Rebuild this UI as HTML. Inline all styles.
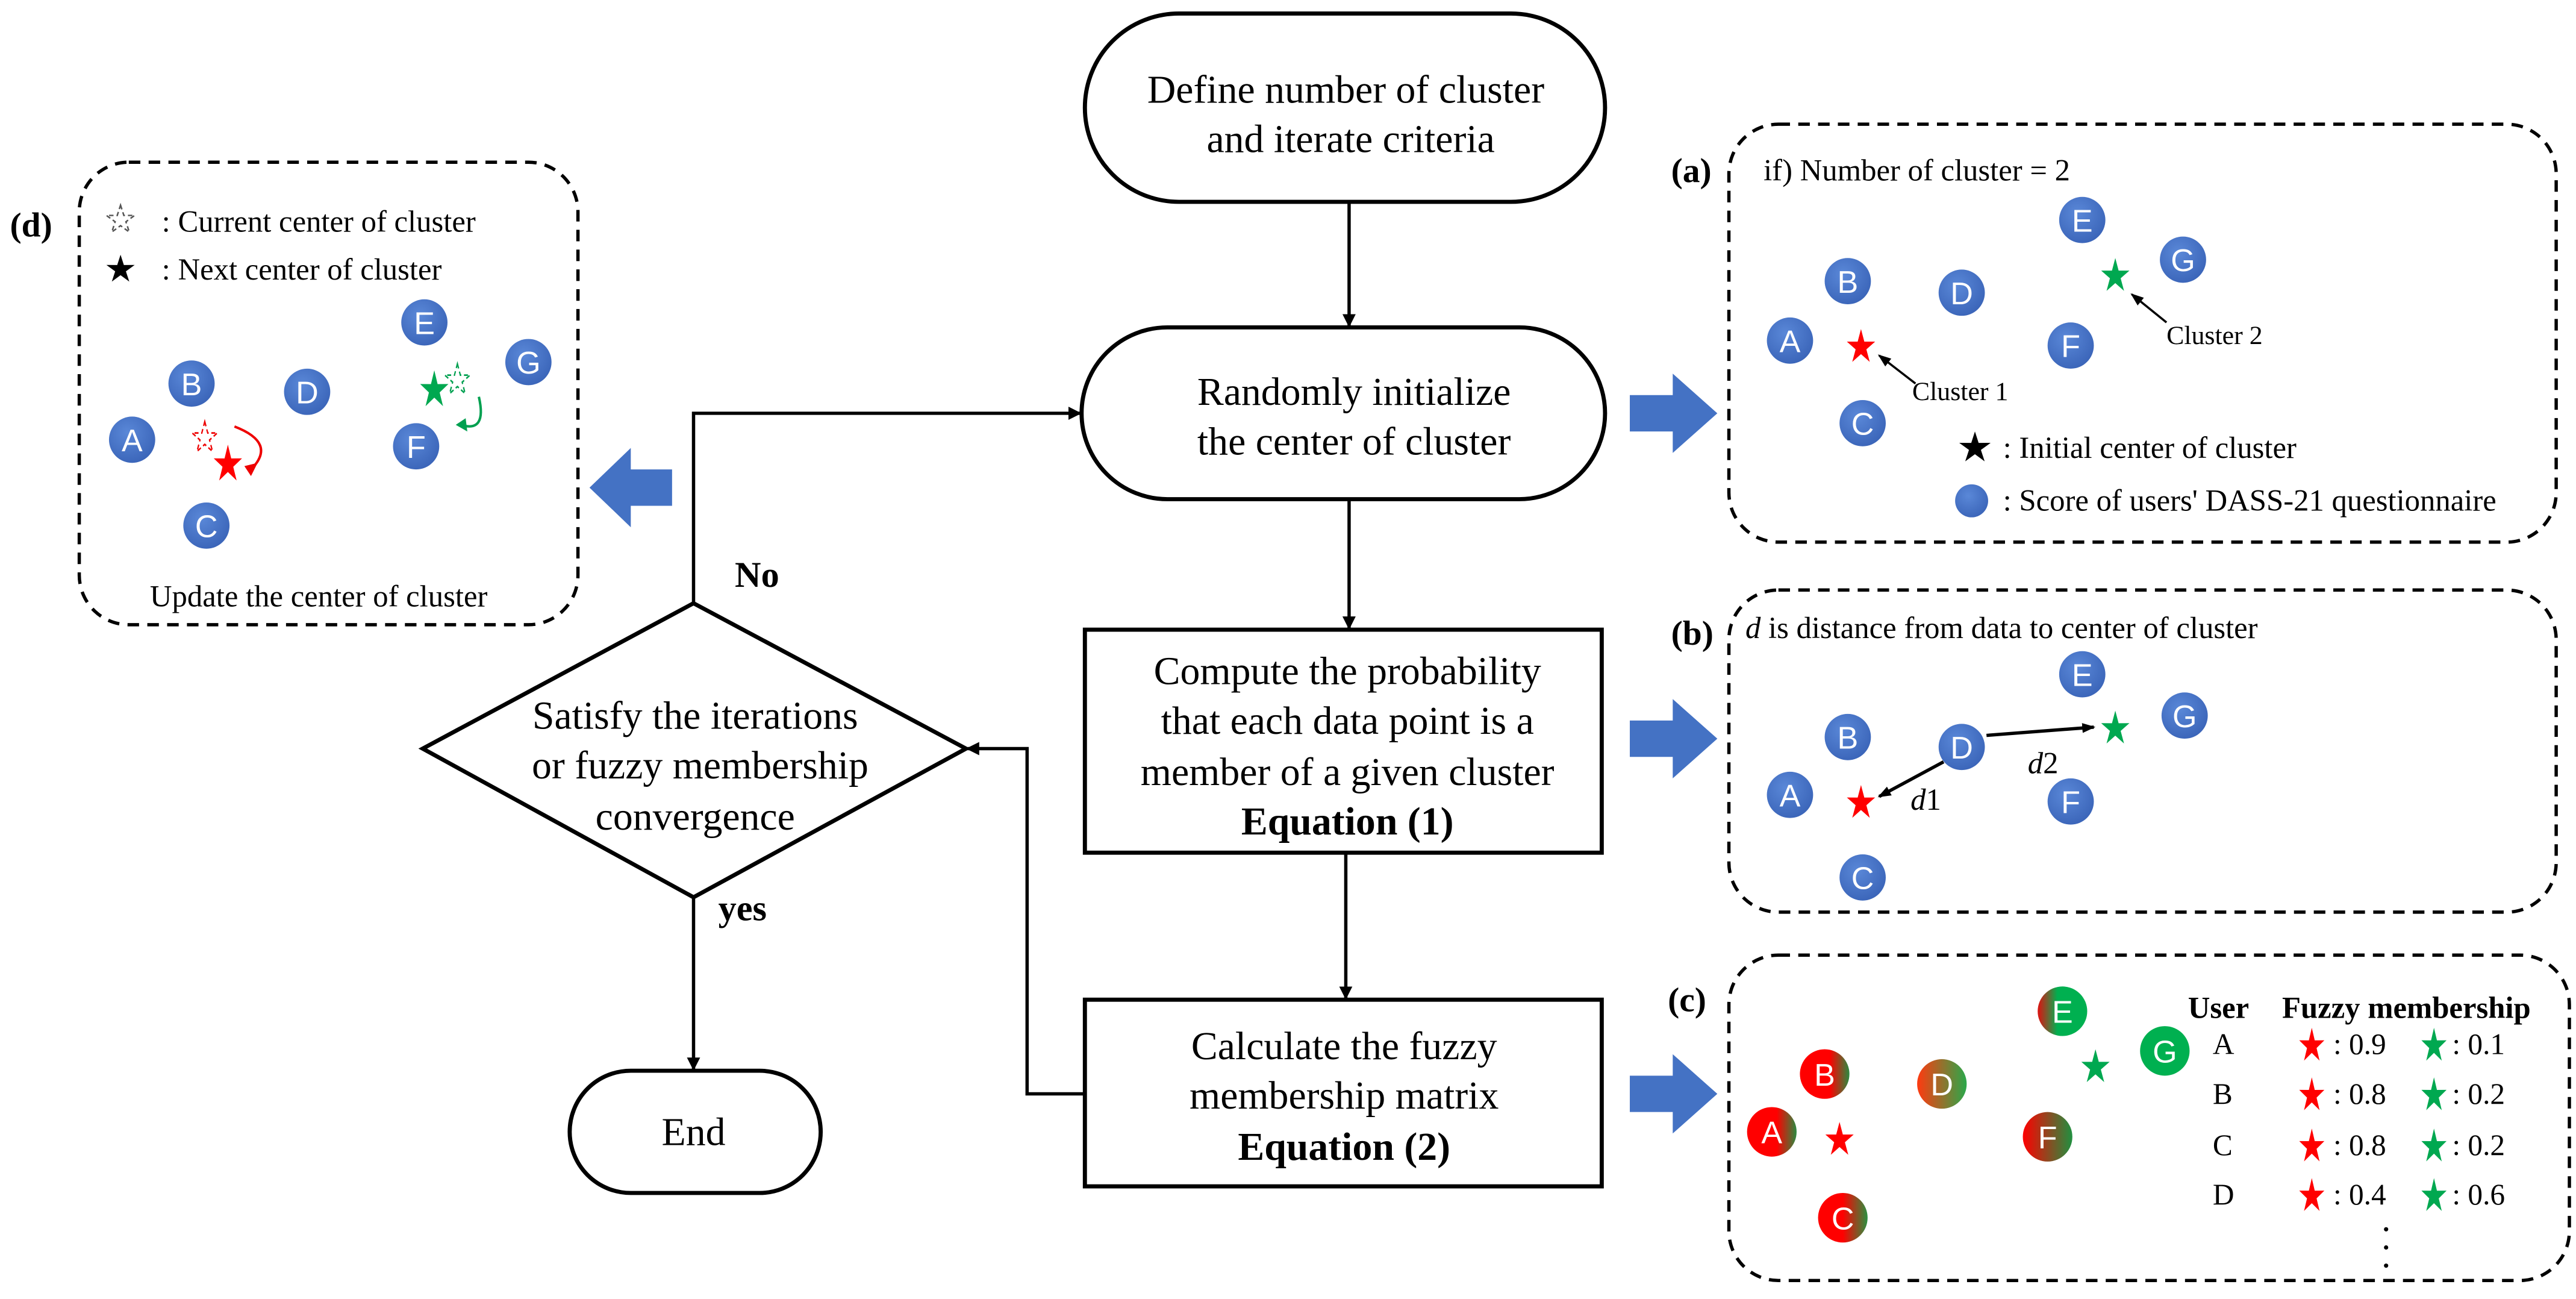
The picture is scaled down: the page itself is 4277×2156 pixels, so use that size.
<!DOCTYPE html>
<html><head><meta charset="utf-8"><style>html,body{margin:0;padding:0;background:#fff}svg{display:block}</style></head>
<body>
<svg xmlns="http://www.w3.org/2000/svg" width="4277" height="2156" viewBox="0 0 1560 786">
<defs>
<path id="st" d="M0,-1 L0.2234,-0.3074 L0.9511,-0.309 L0.3614,0.1174 L0.5878,0.809 L0,0.38 L-0.5878,0.809 L-0.3614,0.1174 L-0.9511,-0.309 L-0.2234,-0.3074 Z"/>
<radialGradient id="bl" cx="0.4" cy="0.35" r="0.7"><stop offset="0" stop-color="#5a88d8"/><stop offset="1" stop-color="#3a64b8"/></radialGradient>
<linearGradient id="gB"><stop offset="0.6" stop-color="#f00"/><stop offset="1" stop-color="#2a8a40"/></linearGradient>
<linearGradient id="gD"><stop offset="0" stop-color="#ff3a10"/><stop offset="1" stop-color="#2aa84a"/></linearGradient>
<linearGradient id="gE"><stop offset="0" stop-color="#e01010"/><stop offset="0.4" stop-color="#00b050"/></linearGradient>
<linearGradient id="gF"><stop offset="0" stop-color="#f00"/><stop offset="1" stop-color="#209040"/></linearGradient>
<linearGradient id="gC"><stop offset="0.5" stop-color="#f00"/><stop offset="1" stop-color="#2a9040"/></linearGradient>
<marker id="ah" markerWidth="8" markerHeight="8" refX="7" refY="4" orient="auto" markerUnits="userSpaceOnUse"><path d="M0,0 L8,4 L0,8 Z" fill="#000"/></marker>
<marker id="sa" markerWidth="8" markerHeight="8" refX="7" refY="4" orient="auto" markerUnits="userSpaceOnUse"><path d="M0,1 L8,4 L0,7 Z" fill="#000"/></marker>
</defs>
<g font-family="Liberation Serif, serif" fill="#000">
<g fill="none" stroke="#000" stroke-width="2.5">
<rect x="657" y="8" width="315" height="114" rx="57"/>
<rect x="655" y="198" width="317" height="104" rx="52"/>
<rect x="657" y="381" width="313" height="135"/>
<rect x="657" y="605" width="313" height="113"/>
<polygon points="256,453 420,365 585,453 420,543"/>
<rect x="345" y="648" width="152" height="74" rx="37"/>
</g>
<g fill="none" stroke="#000" stroke-width="2">
<line x1="817" y1="122" x2="817" y2="197" marker-end="url(#ah)"/>
<line x1="817" y1="302" x2="817" y2="380" marker-end="url(#ah)"/>
<line x1="815" y1="516" x2="815" y2="604" marker-end="url(#ah)"/>
<polyline points="657,662 622,662 622,453 586,453" marker-end="url(#ah)"/>
<polyline points="420,365 420,250 654,250" marker-end="url(#ah)"/>
<line x1="420" y1="543" x2="420" y2="647" marker-end="url(#ah)"/>
</g>
<g font-size="24" text-anchor="middle">
<text x="815" y="62">Define number of cluster</text>
<text x="818" y="92">and iterate criteria</text>
<text x="820" y="245">Randomly initialize</text>
<text x="820" y="275">the center of cluster</text>
<text x="816" y="414">Compute the probability</text>
<text x="816" y="444">that each data point is a</text>
<text x="816" y="475">member of a given cluster</text>
<text x="816" y="505" font-weight="bold">Equation (1)</text>
<text x="814" y="641">Calculate the fuzzy</text>
<text x="814" y="671">membership matrix</text>
<text x="814" y="702" font-weight="bold">Equation (2)</text>
<text x="421" y="441">Satisfy the iterations</text>
<text x="424" y="471">or fuzzy membership</text>
<text x="421" y="502">convergence</text>
<text x="420" y="693">End</text>
</g>
<text x="445" y="355" font-size="22" font-weight="bold">No</text>
<text x="435" y="557" font-size="22" font-weight="bold">yes</text>
<g fill="#4472c4">
<polygon points="987,239 1013,239 1013,226 1040,250 1013,274 1013,261 987,261"/>
<polygon points="987,436 1013,436 1013,423 1040,447 1013,471 1013,458 987,458"/>
<polygon points="987,651 1013,651 1013,638 1040,662 1013,686 1013,673 987,673"/>
<polygon points="407,284 382,284 382,271 357,295 382,319 382,306 407,306"/>
</g>
<g fill="none" stroke="#000" stroke-width="2" stroke-dasharray="7,5">
<rect x="48" y="98" width="302" height="280" rx="30"/>
<rect x="1047" y="75" width="501" height="253" rx="30"/>
<rect x="1047" y="357" width="501" height="195" rx="30"/>
<rect x="1047" y="578" width="509" height="197" rx="30"/>
</g>
<g font-size="21" font-weight="bold">
<text x="6" y="143">(d)</text>
<text x="1012" y="110">(a)</text>
<text x="1012" y="390">(b)</text>
<text x="1010" y="612">(c)</text>
</g>
<g font-size="18.5">
<use href="#st" transform="translate(73,133) scale(9)" fill="none" stroke="#555" stroke-width="0.1" stroke-dasharray="0.3,0.2"/>
<text x="98" y="140">: Current center of cluster</text>
<use href="#st" transform="translate(73,163) scale(9)" fill="#000"/>
<text x="98" y="169">: Next center of cluster</text>
<text x="193" y="367" text-anchor="middle">Update the center of cluster</text>
<text x="1068" y="109">if) Number of cluster = 2</text>
<text x="1158" y="242" font-size="16">Cluster 1</text>
<text x="1312" y="208" font-size="16">Cluster 2</text>
<use href="#st" transform="translate(1196,271) scale(10)" fill="#000"/>
<text x="1213" y="277">: Initial center of cluster</text>
<circle cx="1194" cy="303" r="10" fill="url(#bl)"/>
<text x="1213" y="309">: Score of users' DASS-21 questionnaire</text>
<text x="1057" y="386"><tspan font-style="italic">d</tspan> is distance from data to center of cluster</text>
<text x="1157" y="490" font-style="italic">d<tspan font-style="normal">1</tspan></text>
<text x="1228" y="468" font-style="italic">d<tspan font-style="normal">2</tspan></text>
<text x="1325" y="616" font-weight="bold">User</text>
<text x="1382" y="616" font-weight="bold">Fuzzy membership</text>
</g>
<g fill="none" stroke="#000" stroke-width="1.3">
<line x1="1160" y1="232" x2="1138" y2="215" marker-end="url(#sa)"/>
<line x1="1312" y1="195" x2="1291" y2="178" marker-end="url(#sa)"/>
</g>
<g fill="none" stroke="#000" stroke-width="2">
<line x1="1177" y1="461" x2="1138" y2="482" marker-end="url(#sa)"/>
<line x1="1203" y1="445" x2="1268" y2="440" marker-end="url(#sa)"/>
</g>
<path d="M142,258 Q168,268 152,284" fill="none" stroke="#e00" stroke-width="1.5"/>
<polygon points="148,282 156,280 152,288" fill="#e00"/>
<path d="M290,240 Q295,262 279,257" fill="none" stroke="#00a050" stroke-width="1.5"/>
<polygon points="282,253 276,257 283,261" fill="#00a050"/>
<use href="#st" transform="translate(124,265) scale(8,10)" fill="none" stroke="#e00" stroke-width="0.1" stroke-dasharray="0.3,0.2"/>
<use href="#st" transform="translate(138,281) scale(9,12)" fill="#f00"/>
<use href="#st" transform="translate(277,230) scale(8,10)" fill="none" stroke="#00a050" stroke-width="0.1" stroke-dasharray="0.3,0.2"/>
<use href="#st" transform="translate(263,236) scale(9,12)" fill="#00a850"/>
<use href="#st" transform="translate(1127,210) scale(9,11)" fill="#f00"/>
<use href="#st" transform="translate(1281,167) scale(9,11)" fill="#00a850"/>
<use href="#st" transform="translate(1127,486) scale(9,11)" fill="#f00"/>
<use href="#st" transform="translate(1281,441) scale(9,11)" fill="#00a850"/>
<use href="#st" transform="translate(1114,690) scale(9,11)" fill="#f00"/>
<use href="#st" transform="translate(1269,646) scale(9,11)" fill="#00a850"/>
<g fill="url(#bl)">
<circle cx="257" cy="195" r="14"/><circle cx="320" cy="219" r="14"/><circle cx="116" cy="232" r="14"/><circle cx="186" cy="237" r="14"/><circle cx="80" cy="266" r="14"/><circle cx="252" cy="270" r="14"/><circle cx="125" cy="318" r="14"/>
<circle cx="1261" cy="133" r="14"/><circle cx="1322" cy="157" r="14"/><circle cx="1119" cy="170" r="14"/><circle cx="1188" cy="177" r="14"/><circle cx="1084" cy="206" r="14"/><circle cx="1254" cy="209" r="14"/><circle cx="1128" cy="256" r="14"/>
<circle cx="1261" cy="408" r="14"/><circle cx="1323" cy="433" r="14"/><circle cx="1119" cy="446" r="14"/><circle cx="1188" cy="452" r="14"/><circle cx="1084" cy="481" r="14"/><circle cx="1254" cy="485" r="14"/><circle cx="1128" cy="531" r="14"/>
</g>
<circle cx="1249" cy="612" r="15" fill="url(#gE)"/>
<circle cx="1311" cy="636" r="15" fill="#00b050"/>
<circle cx="1105" cy="650" r="15" fill="url(#gB)"/>
<circle cx="1176" cy="656" r="15" fill="url(#gD)"/>
<circle cx="1073" cy="685" r="15" fill="url(#gB)"/>
<circle cx="1240" cy="688" r="15" fill="url(#gF)"/>
<circle cx="1116" cy="737" r="15" fill="url(#gC)"/>
<g font-family="Liberation Sans, sans-serif" font-size="19" fill="#fff" text-anchor="middle">
<text x="257" y="202">E</text><text x="320" y="226">G</text><text x="116" y="239">B</text><text x="186" y="244">D</text><text x="80" y="273">A</text><text x="252" y="277">F</text><text x="125" y="325">C</text>
<text x="1261" y="140">E</text><text x="1322" y="164">G</text><text x="1119" y="177">B</text><text x="1188" y="184">D</text><text x="1084" y="213">A</text><text x="1254" y="216">F</text><text x="1128" y="263">C</text>
<text x="1261" y="415">E</text><text x="1323" y="440">G</text><text x="1119" y="453">B</text><text x="1188" y="459">D</text><text x="1084" y="488">A</text><text x="1254" y="492">F</text><text x="1128" y="538">C</text>
<text x="1249" y="619">E</text><text x="1311" y="643">G</text><text x="1105" y="657">B</text><text x="1176" y="663">D</text><text x="1073" y="692">A</text><text x="1240" y="695">F</text><text x="1116" y="744">C</text>
</g>
<g font-size="18">
<text x="1340" y="638">A</text><use href="#st" transform="translate(1400,633) scale(8,11)" fill="#f00"/><text x="1413" y="638">: 0.9</text><use href="#st" transform="translate(1474,633) scale(8,11)" fill="#00a850"/><text x="1485" y="638">: 0.1</text>
<text x="1340" y="668">B</text><use href="#st" transform="translate(1400,663) scale(8,11)" fill="#f00"/><text x="1413" y="668">: 0.8</text><use href="#st" transform="translate(1474,663) scale(8,11)" fill="#00a850"/><text x="1485" y="668">: 0.2</text>
<text x="1340" y="699">C</text><use href="#st" transform="translate(1400,694) scale(8,11)" fill="#f00"/><text x="1413" y="699">: 0.8</text><use href="#st" transform="translate(1474,694) scale(8,11)" fill="#00a850"/><text x="1485" y="699">: 0.2</text>
<text x="1340" y="729">D</text><use href="#st" transform="translate(1400,724) scale(8,11)" fill="#f00"/><text x="1413" y="729">: 0.4</text><use href="#st" transform="translate(1474,724) scale(8,11)" fill="#00a850"/><text x="1485" y="729">: 0.6</text>
</g>
<circle cx="1445" cy="744" r="1.3"/><circle cx="1445" cy="755" r="1.3"/><circle cx="1445" cy="766" r="1.3"/>
</g>
</svg>
</body></html>
